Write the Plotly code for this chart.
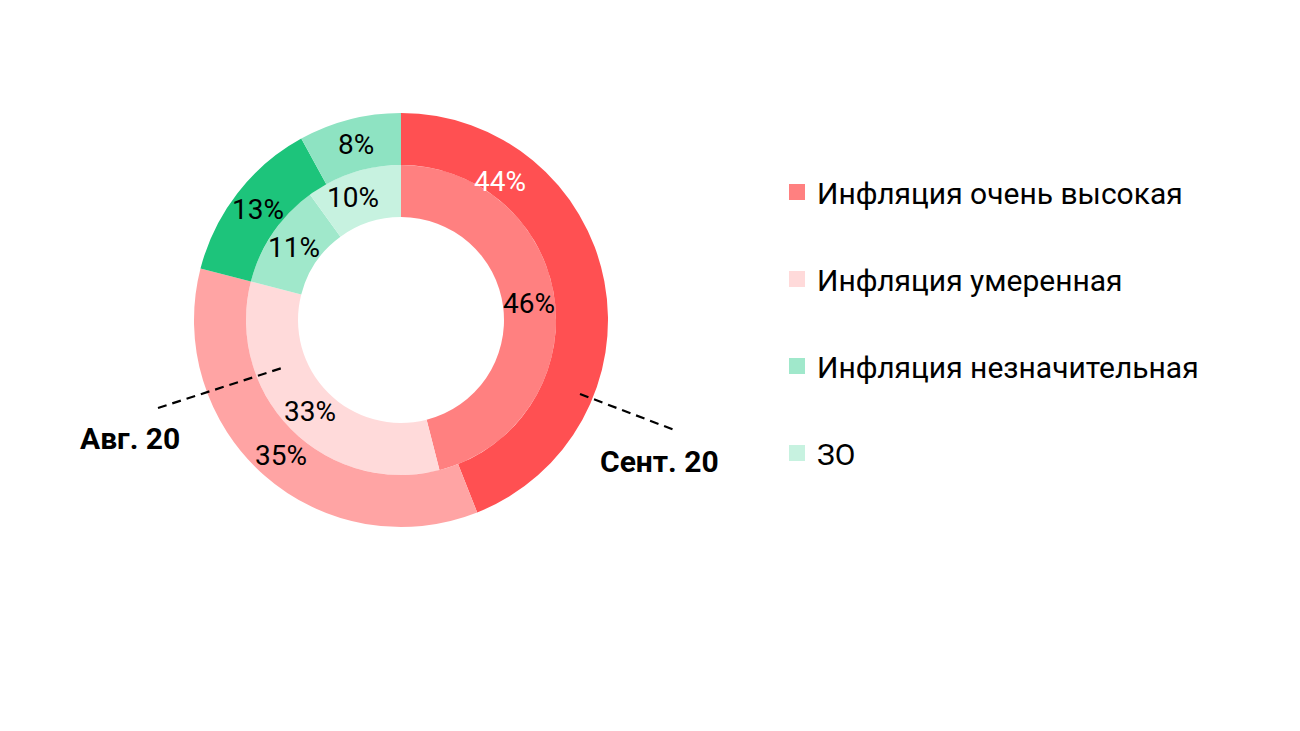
import math
import plotly.graph_objects as go

categories = ["Инфляция очень высокая", "Инфляция умеренная", "Инфляция незначительная", "ЗО"]
aug_values = [46, 33, 11, 10]   # Авг. 20, внутреннее кольцо
sep_values = [44, 35, 13, 8]    # Сент. 20, внешнее кольцо

aug_colors = ["#FF8080", "#FFDADA", "#A0E8CB", "#C7F2E0"]
sep_colors = ["#FF5052", "#FFA4A4", "#1DC47B", "#8EE3C2"]
aug_text_colors = ["black", "black", "black", "black"]
sep_text_colors = ["white", "black", "black", "black"]
# где внутри сектора стоит подпись: доля угла и доля толщины кольца
aug_label_frac = [0.5, 0.5, 0.5, 0.4]
sep_label_frac = [0.225, 0.5, 0.5, 0.5]
aug_label_rad = [0.5, 0.5, 0.5, 0.55]
sep_label_rad = [0.3, 0.5, 0.5, 0.5]

# страница рисуется с отступом body 8px
OFF = 8
W, H = 1292, 723

def px_x(X):
    return (X - OFF) / W

def px_y(Y):
    return 1 - (Y - OFF) / H

# геометрия колец в пикселях окна
CX, CY = 401, 320
R_OUT, R_MID, R_IN = 207, 155, 103

fig = go.Figure()

fig.add_trace(go.Pie(labels=categories, values=aug_values, hole=R_IN / R_MID, sort=False, direction="clockwise",
                     rotation=0, marker=dict(colors=aug_colors, line=dict(width=0)), textinfo="none",
                     showlegend=False, hoverinfo="label+value",
                     domain=dict(x=[px_x(CX - R_MID), px_x(CX + R_MID)], y=[px_y(CY + R_MID), px_y(CY - R_MID)])))

fig.add_trace(go.Pie(labels=categories, values=sep_values, hole=R_MID / R_OUT, sort=False, direction="clockwise",
                     rotation=0, marker=dict(colors=sep_colors, line=dict(width=0)), textinfo="none",
                     showlegend=False, hoverinfo="label+value",
                     domain=dict(x=[px_x(CX - R_OUT), px_x(CX + R_OUT)], y=[px_y(CY + R_OUT), px_y(CY - R_OUT)])))

# подписи процентов по углам секторов
def add_ring_labels(values, fracs, rads, colors, r0, r1):
    total = sum(values)
    start = 0
    for v, f, k, c in zip(values, fracs, rads, colors):
        ang = 2 * math.pi * (start + v * f) / total
        r = r0 + (r1 - r0) * k
        X = CX + r * math.sin(ang)
        Y = CY - r * math.cos(ang)
        fig.add_annotation(text="{0}%".format(v), x=px_x(X), y=px_y(Y), xref="paper", yref="paper",
                           xanchor="center", yanchor="middle", showarrow=False,
                           font=dict(size=28, color=c, family="Roboto"))
        start += v

add_ring_labels(aug_values, aug_label_frac, aug_label_rad, aug_text_colors, R_IN, R_MID)
add_ring_labels(sep_values, sep_label_frac, sep_label_rad, sep_text_colors, R_MID, R_OUT)

# легенда
for i in range(len(categories)):
    fig.add_trace(go.Scatter(x=[None], y=[None], mode="markers", name=categories[i], legendgroup=str(i),
                             marker=dict(symbol="square", size=16, color=aug_colors[i])))

fig.add_annotation(text="<b>Авг. 20</b>", x=px_x(130), y=px_y(438), xref="paper", yref="paper",
                   xanchor="center", yanchor="middle", showarrow=False,
                   font=dict(size=30, color="black", family="Roboto"))
fig.add_annotation(text="<b>Сент. 20</b>", x=px_x(659), y=px_y(461), xref="paper", yref="paper",
                   xanchor="center", yanchor="middle", showarrow=False,
                   font=dict(size=30, color="black", family="Roboto"))
fig.add_shape(type="line", xref="paper", yref="paper", x0=px_x(158), y0=px_y(408), x1=px_x(282), y1=px_y(368),
              line=dict(color="black", width=2.2, dash="9px,6px"))
fig.add_shape(type="line", xref="paper", yref="paper", x0=px_x(580), y0=px_y(394), x1=px_x(677), y1=px_y(431),
              line=dict(color="black", width=2.2, dash="9px,6px"))

fig.update_layout(width=W, height=H, margin=dict(l=0, r=0, t=0, b=0),
                  paper_bgcolor="white", plot_bgcolor="white", font_family="Roboto",
                  legend=dict(x=px_x(777), y=px_y(166), xanchor="left", yanchor="top", tracegroupgap=45,
                              font=dict(size=30, color="black", family="Roboto"), itemwidth=30),
                  xaxis=dict(visible=False), yaxis=dict(visible=False))
fig.write_html("out.html")
